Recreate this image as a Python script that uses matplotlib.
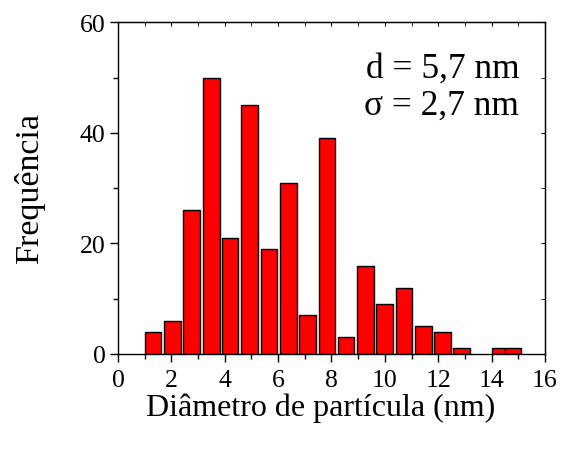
import matplotlib
matplotlib.use("Agg")
import matplotlib.pyplot as plt
from matplotlib.ticker import MultipleLocator

# Data
bin_left = [1.0, 1.72, 2.45, 3.18, 3.90, 4.62, 5.35, 6.07, 6.80, 7.52, 8.24,
            8.96, 9.68, 10.40, 11.13, 11.85, 12.56, 14.02, 14.50]
bin_width = [0.62, 0.64, 0.63, 0.64, 0.61, 0.64, 0.62, 0.63, 0.62, 0.62, 0.62,
             0.62, 0.62, 0.63, 0.62, 0.61, 0.62, 0.48, 0.60]
counts = [4, 6, 26, 50, 21, 45, 19, 31, 7, 39, 3, 16, 9, 12, 5, 4, 1, 1, 1]

plt.rcParams['font.family'] = ['Liberation Serif', 'DejaVu Serif']

fig = plt.figure(figsize=(5.68, 4.56), dpi=100)
ax = fig.add_axes([0.2077, 0.2215, 0.7518, 0.7275])

ax.bar(bin_left, counts, width=bin_width, align='edge', color='#ff0000',
       edgecolor='black', linewidth=1.0, zorder=2)

ax.set_xlim(0, 16)
ax.set_ylim(0, 60)
ax.xaxis.set_major_locator(MultipleLocator(2))
ax.xaxis.set_minor_locator(MultipleLocator(1))
ax.yaxis.set_major_locator(MultipleLocator(20))
ax.yaxis.set_minor_locator(MultipleLocator(10))
ax.tick_params(axis='both', which='major', direction='out', length=6, width=1,
               labelsize=18.5)
ax.tick_params(axis='x', which='major', pad=5)
ax.tick_params(axis='y', which='major', pad=3)
ax.tick_params(axis='both', which='minor', direction='out', length=3.5, width=1)
ax.tick_params(top=False, right=False, which='both')
for s in ax.spines.values():
    s.set_linewidth(1.0)

# inward ticks on top/right
ax2 = ax.secondary_xaxis('top')
ax2.xaxis.set_major_locator(MultipleLocator(2))
ax2.xaxis.set_minor_locator(MultipleLocator(1))
ax2.tick_params(which='both', direction='in', length=3, labeltop=False)
ax3 = ax.secondary_yaxis('right')
ax3.yaxis.set_major_locator(MultipleLocator(20))
ax3.yaxis.set_minor_locator(MultipleLocator(10))
ax3.tick_params(which='both', direction='in', length=3, labelright=False)

ax.set_xlabel('Diâmetro de partícula (nm)', fontsize=23)
ax.xaxis.set_label_coords(0.474, -0.115)
ax.set_ylabel('Frequência', fontsize=24.5)
ax.yaxis.set_label_coords(-0.17, 0.505)

ax.text(0.94, 0.862, 'd = 5,7 nm', transform=ax.transAxes, ha='right', va='center',
        fontsize=25.5)
ax.text(0.94, 0.75, 'σ = 2,7 nm', transform=ax.transAxes, ha='right', va='center',
        fontsize=25.5)

fig.savefig('out.png', dpi=100)
